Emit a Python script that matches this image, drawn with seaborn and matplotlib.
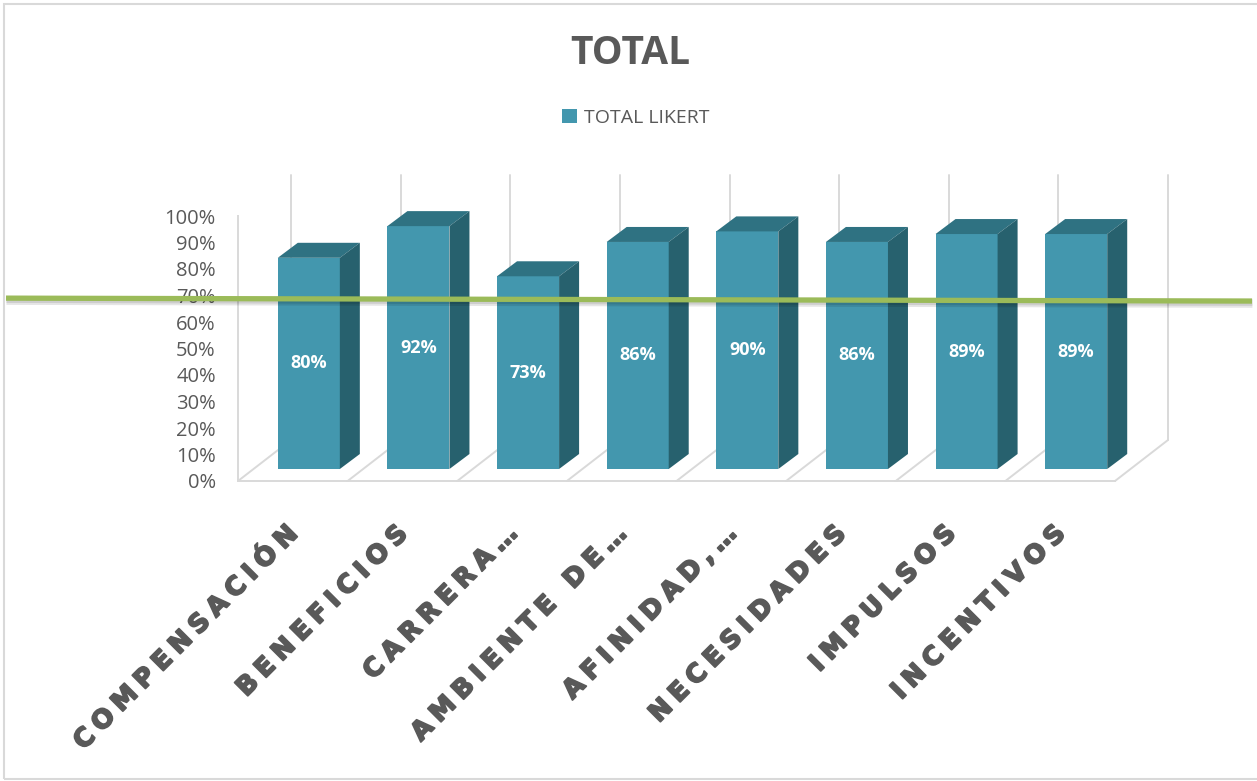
import matplotlib
matplotlib.use("Agg")
import matplotlib.pyplot as plt
import matplotlib.patheffects as pe
import matplotlib.transforms as mtransforms
from matplotlib.lines import Line2D
from matplotlib.patches import Polygon, Rectangle
from matplotlib.ticker import PercentFormatter
import seaborn as sns
import pandas as pd

# ---- data -------------------------------------------------------------
categorias = ["COMPENSACIÓN", "BENEFICIOS", "CARRERA…", "AMBIENTE DE…",
              "AFINIDAD,…", "NECESIDADES", "IMPULSOS", "INCENTIVOS"]
valores = [0.80, 0.92, 0.73, 0.86, 0.90, 0.86, 0.89, 0.89]
serie = "TOTAL LIKERT"
titulo = "TOTAL"
umbral = [0.690, 0.679]          # reference line (left end, right end)
ticks_y = [i / 10 for i in range(11)]

# ---- style ------------------------------------------------------------
sns.set_style("white")
plt.rcParams["font.family"] = ["Open Sans", "DejaVu Sans"]

GRIS_TXT = "#595959"
GRIS_LIN = "#d9d9d9"
FRENTE = "#4397AE"
TECHO = "#2F7282"
LADO = "#27616E"
VERDE = "#9BBB59"

W, H = 1257, 781
fig = plt.figure(figsize=(W / 100, H / 100), dpi=100)
fig.patch.set_facecolor("white")


def fx(x):
    return x / W


def fy(y):
    return 1 - y / H


def espaciar(texto):
    """Letter-space a label with quarter-em spaces."""
    return "\u2005".join(texto)


# ---- walls / floor axes (value axis) -----------------------------------
ax_g = fig.add_axes([fx(238), fy(481), 877 / W, 265 / H])
ax_g.set_xlim(-0.5, len(categorias) - 0.5)
ax_g.set_ylim(0, 1)
ax_g.set_facecolor("none")
for s in ["top", "right"]:
    ax_g.spines[s].set_visible(False)
for s in ["left", "bottom"]:
    ax_g.spines[s].set_color(GRIS_LIN)
    ax_g.spines[s].set_linewidth(1.4)
ax_g.set_xticks([])
ax_g.set_yticks(ticks_y)
ax_g.yaxis.set_major_formatter(PercentFormatter(1.0, decimals=0))
ax_g.tick_params(axis="y", length=5, width=1.2, color=GRIS_LIN, pad=11,
                 labelsize=14.5, labelcolor=GRIS_TXT)

# floor diagonals and back-wall verticals at every category boundary
prof_x, prof_y = 0.4836, 0.1547
for k in range(len(categorias) + 1):
    b = k - 0.5
    ax_g.add_line(Line2D([b, b + prof_x], [0, prof_y], color=GRIS_LIN,
                         lw=1.4, clip_on=False))
    ax_g.add_line(Line2D([b + prof_x, b + prof_x], [prof_y, 1 + prof_y],
                         color=GRIS_LIN, lw=1.4, clip_on=False))

# ---- bars axes ----------------------------------------------------------
ax_b = fig.add_axes([fx(254), fy(469), 877 / W, 264 / H])
df = pd.DataFrame({"categoria": categorias, "valor": valores})
sns.barplot(data=df, x="categoria", y="valor", ax=ax_b, color=FRENTE,
            saturation=1, width=0.566, label=serie, edgecolor="none")
ax_b.set_xlim(-0.5, len(categorias) - 0.5)
ax_b.set_ylim(0, 1)
ax_b.set_facecolor("none")
for s in ax_b.spines.values():
    s.set_visible(False)
ax_b.set_yticks([])
ax_b.set_xticks([])
ax_b.set_xlabel("")
ax_b.set_ylabel("")

# extrude every bar: top and right side faces
dx, dy = 20 / 109.6, 15 / 264
for rect in ax_b.patches:
    x0 = rect.get_x()
    x1 = x0 + rect.get_width()
    h = rect.get_height()
    ax_b.add_patch(Polygon([(x0, h), (x1, h), (x1 + dx, h + dy), (x0 + dx, h + dy)],
                           closed=True, fc=TECHO, ec="none", clip_on=False))
    ax_b.add_patch(Polygon([(x1, 0), (x1 + dx, dy), (x1 + dx, h + dy), (x1, h)],
                           closed=True, fc=LADO, ec="none", clip_on=False))

ax_b.bar_label(ax_b.containers[0], labels=[f"{v:.0%}" for v in valores],
               label_type="center", color="white", fontsize=13,
               fontweight="bold")

# category labels: letter-spaced, heavy, rotated under each bar
engrosar = [pe.withStroke(linewidth=1.3, foreground=GRIS_TXT)]
for i, cat in enumerate(categorias):
    ax_b.text(i - 0.08, -0.246, espaciar(cat), transform=ax_b.get_xaxis_transform(),
              rotation=45, rotation_mode="anchor", ha="right", va="baseline",
              fontsize=18.5, fontweight="bold", family="DejaVu Sans",
              color=GRIS_TXT, path_effects=engrosar, clip_on=False)

# ---- title and legend ---------------------------------------------------
fig.text(fx(630), fy(64), titulo, ha="center", va="baseline", fontsize=28,
         fontweight="bold", color=GRIS_TXT)
handles, labels = ax_b.get_legend_handles_labels()
leg = fig.legend(handles, labels, loc="center", bbox_to_anchor=(fx(636), fy(118)),
                 frameon=False, fontsize=14, handlelength=0.75, handleheight=0.75,
                 handletextpad=0.4, labelcolor=GRIS_TXT)
if ax_b.get_legend() is not None:
    ax_b.get_legend().remove()

# ---- reference line across the chart -----------------------------------
trans = mtransforms.blended_transform_factory(fig.transFigure, ax_g.transData)
linea = Line2D([fx(6), fx(1252)], umbral, transform=trans, color=VERDE,
               lw=3.8, solid_capstyle="butt", zorder=10)
linea.set_path_effects([
    pe.SimpleLineShadow(offset=(0.3, -1.6), shadow_color="black", alpha=0.10,
                        linewidth=6.5),
    pe.SimpleLineShadow(offset=(0.3, -1.2), shadow_color="black", alpha=0.10,
                        linewidth=4.5),
    pe.Normal(),
])
fig.add_artist(linea)

# chart-area frame
fig.add_artist(Rectangle((fx(3.5), fy(779)), 1.2, fy(3.5) - fy(779),
                         transform=fig.transFigure, fill=False,
                         ec=GRIS_LIN, lw=1.5))

fig.savefig("out.png", dpi=100, facecolor="white")
